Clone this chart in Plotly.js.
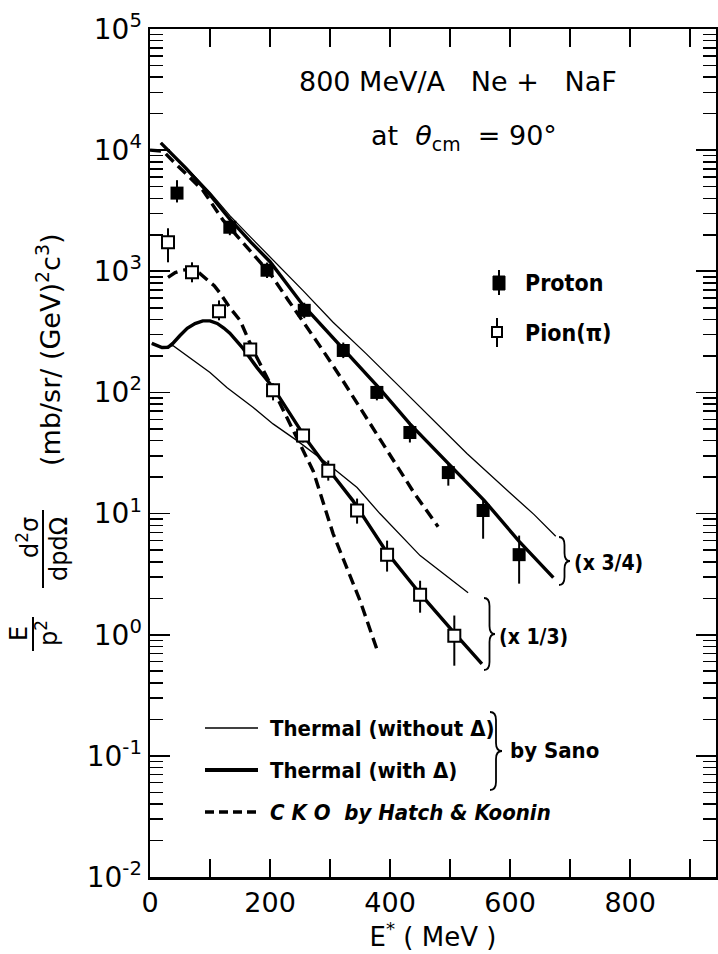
<!DOCTYPE html>
<html><head><meta charset="utf-8">
<script src="https://cdn.plot.ly/plotly-3.0.1.min.js"></script>
<style>body{margin:0;background:#fff}</style>
</head><body><div id="chart" style="width:718px;height:954px"></div>
<script>
// ---- Data ----
const protonE  = [45, 133, 195, 257, 322, 378, 433, 497, 555, 615];
const protonY  = [4420, 2310, 1020, 476, 222, 100, 46.7, 21.8, 10.6, 4.58];
const protonHi = [5650, 2790, 1180, 550, 258, 116, 55.5, 25.9, 12.8, 6.58];
const protonLo = [3700, 1985, 880, 410, 192, 86, 38.6, 17.0, 6.2, 2.64];

const pionE  = [30, 70, 115, 167, 205, 255, 297, 345, 395, 450, 507];
const pionY  = [1740, 982, 467, 226, 104, 44.2, 22.6, 10.6, 4.58, 2.14, 0.98];
const pionHi = [2265, 1186, 575, 262, 119, 50, 27.4, 13.3, 5.98, 2.79, 1.44];
const pionLo = [1186, 811, 394, 195, 86, 38.6, 18.7, 8.26, 3.32, 1.52, 0.555];

// Thermal without Delta (thin), protons (x3/4)
const pThinE = [18, 60, 100, 133, 168, 200, 255, 305, 360, 417, 475, 528, 600, 640, 676];
const pThinY = [11480, 7240, 4470, 2880, 1905, 1318, 692, 380, 209, 110, 57.5, 31.3, 14.8, 9.8, 6.5];
// Thermal with Delta (thick), protons
const pThickE = [18, 60, 100, 133, 168, 200, 255, 322, 383, 433, 498, 557, 615, 672];
const pThickY = [11480, 7080, 4270, 2690, 1740, 1200, 525, 229, 107, 55, 25.7, 12.8, 5.9, 2.96];
// CKO (dashed), protons
const pCkoE = [0, 22, 40, 88, 122, 162, 200, 230, 260, 290, 320, 350, 380, 410, 440, 480];
const pCkoY = [10000, 9800, 7950, 4670, 2630, 1580, 960, 580, 355, 215, 128, 75, 44, 25.5, 14.8, 7.8];

// Pions (x1/3)
const piThinE = [3, 20, 38, 100, 128, 172, 205, 245, 295, 345, 383, 450, 530];
const piThinY = [254, 235, 244, 146, 110, 75, 55, 40, 26, 16.4, 10, 4.5, 2.22];
const piThickE = [3, 12, 20, 30, 38, 50, 62, 75, 88, 100, 112, 123, 133, 155, 178, 205, 233, 262, 295, 338, 395, 450, 508, 553];
const piThickY = [254, 244, 235, 236, 254, 295, 338, 370, 390, 390, 371, 340, 308, 231, 161, 110, 67, 40, 24, 12.8, 4.76, 2.18, 1.02, 0.575];
const piCkoE = [30, 42, 55, 70, 82, 95, 107, 117, 133, 150, 172, 200, 222, 250, 272, 305, 350, 380];
const piCkoY = [891, 975, 1023, 1047, 970, 860, 760, 658, 500, 394, 222, 119, 71, 37.9, 22.4, 6.84, 1.91, 0.71];

// y tick labels
const yTickVals = [0.01, 0.1, 1, 10, 100, 1000, 10000, 100000];
const yTickText = ['10<sup>-2</sup>', '10<sup>-1</sup>', '10<sup>0</sup>', '10<sup>1</sup>',
                   '10<sup>2</sup>', '10<sup>3</sup>', '10<sup>4</sup>', '10<sup>5</sup>'];

// ---- Geometry helpers (pixel -> paper) ----
const L = 150, R = 716, T = 29, B = 877;
const px = x => (x - L) / (R - L);
const py = y => (B - y) / (B - T);

const GEO = 'DejaVu Sans, sans-serif';
const COND = 'Liberation Sans Narrow, DejaVu Sans Condensed, sans-serif';
const DASH = '11px,6px';

function line(x, y, w, dash) {
  return {x: x, y: y, type: 'scatter', mode: 'lines', showlegend: false, hoverinfo: 'skip',
          line: {color: 'black', width: w, dash: dash || 'solid'}};
}
const diff = (a, b) => a.map((v, i) => v - b[i]);

const traces = [
  line(pThinE, pThinY, 1.3),
  line(pThickE, pThickY, 3.4),
  line(pCkoE, pCkoY, 3.4, DASH),
  line(piThinE, piThinY, 1.3),
  line(piThickE, piThickY, 3.4),
  line(piCkoE, piCkoY, 3.4, DASH),
  {x: protonE, y: protonY, type: 'scatter', mode: 'markers', showlegend: false,
   marker: {symbol: 'square', size: 13, color: 'black'},
   error_y: {type: 'data', symmetric: false, array: diff(protonHi, protonY), arrayminus: diff(protonY, protonLo),
             thickness: 2, width: 0, color: 'black'}},
  {x: pionE, y: pionY, type: 'scatter', mode: 'markers', showlegend: false,
   marker: {symbol: 'square', size: 12, color: 'white', line: {color: 'black', width: 2}},
   error_y: {type: 'data', symmetric: false, array: diff(pionHi, pionY), arrayminus: diff(pionY, pionLo),
             thickness: 2, width: 0, color: 'black'}}
];

function ann(text, x, y, size, opts) {
  return Object.assign({text: text, x: px(x), y: py(y), xref: 'paper', yref: 'paper', showarrow: false,
    xanchor: 'center', yanchor: 'middle', font: {family: GEO, size: size, color: 'black'}}, opts || {});
}
function seg(x0, y0, x1, y1, w, dash) {
  return {type: 'line', xref: 'paper', yref: 'paper', x0: px(x0), y0: py(y0), x1: px(x1), y1: py(y1),
          line: {color: 'black', width: w, dash: dash || 'solid'}};
}
function brace(x0, yt, yb, w) {
  const ym = (yt + yb) / 2, xm = x0 + w / 2, r = Math.min(8, (yb - yt) / 6);
  const P = (x, y) => px(x) + ',' + py(y);
  const d = 'M' + P(x0, yt) + ' Q' + P(xm, yt) + ' ' + P(xm, yt + r) + ' L' + P(xm, ym - r) +
            ' Q' + P(xm, ym) + ' ' + P(x0 + w, ym) + ' Q' + P(xm, ym) + ' ' + P(xm, ym + r) +
            ' L' + P(xm, yb - r) + ' Q' + P(xm, yb) + ' ' + P(x0, yb);
  return {type: 'path', xref: 'paper', yref: 'paper', path: d, line: {color: 'black', width: 1.8}};
}
const cf = s => ({family: COND, size: s, color: 'black'});

const NB = '\u00a0';
const annotations = [
  ann('800 MeV/A' + NB + NB + ' Ne +' + NB + NB + ' NaF', 458, 81, 27),
  ann('at' + NB + ' <i>θ</i><sub>cm</sub>' + NB + ' = 90°', 464, 137, 27),
  ann('<b>Proton</b>', 523, 283, 23, {xanchor: 'left', font: cf(23)}),
  ann('<b>Pion(π)</b>', 523, 333, 23, {xanchor: 'left', font: cf(23)}),
  ann('<b>(x 3/4)</b>', 572, 563, 21, {xanchor: 'left', font: cf(21)}),
  ann('<b>(x 1/3)</b>', 497, 637, 21, {xanchor: 'left', font: cf(21)}),
  ann('<b>Thermal (without Δ)</b>', 268, 728, 22, {xanchor: 'left', font: cf(22)}),
  ann('<b>Thermal (with Δ)</b>', 268, 770, 22, {xanchor: 'left', font: cf(22)}),
  ann('<b><i>C K O' + NB + NB + 'by Hatch &amp; Koonin</i></b>', 268, 812, 22, {xanchor: 'left', font: cf(22)}),
  ann('<b>by Sano</b>', 508, 750, 22, {xanchor: 'left', font: cf(22)}),
  // y-axis title pieces (rotated)
  ann('(mb/sr/ (GeV)<sup>2</sup>c<sup>3</sup>)', 48, 350, 27, {textangle: -90}),
  ann('d<sup>2</sup>σ', 28, 538, 24, {textangle: -90}),
  ann('dpdΩ', 59, 549, 24, {textangle: -90}),
  ann('E', 19, 634, 24, {textangle: -90}),
  ann('p<sup>2</sup>', 47, 633, 24, {textangle: -90})
];

const shapes = [
  seg(43, 510, 43, 588, 2),
  seg(33, 617, 33, 651, 2),
  seg(205, 728, 258, 728, 1.3),
  seg(205, 770, 258, 770, 4),
  seg(205, 812, 258, 812, 3.4, '9px,5px'),
  brace(490, 712, 790, 12),
  brace(559, 537, 585, 11),
  brace(484, 598, 670, 11),
  // legend symbols
  seg(499, 270, 499, 295, 2),
  {type: 'rect', xref: 'paper', yref: 'paper', x0: px(493), x1: px(505), y0: py(276), y1: py(290),
   fillcolor: 'black', line: {color: 'black', width: 1}},
  seg(497, 318, 497, 347, 2),
  {type: 'rect', xref: 'paper', yref: 'paper', x0: px(492), x1: px(502), y0: py(327), y1: py(337),
   fillcolor: 'white', line: {color: 'black', width: 2}}
];

const layout = {
  width: 718, height: 954,
  margin: {l: L, r: 718 - R, t: T, b: 954 - B},
  paper_bgcolor: 'white', plot_bgcolor: 'white',
  showlegend: false,
  xaxis: {
    range: [0, 943], dtick: 200, tick0: 0,
    ticks: 'inside', ticklen: 18, tickwidth: 1.8, tickcolor: 'black',
    minor: {dtick: 100, tick0: 0, ticks: 'inside', ticklen: 18, tickwidth: 1.8, tickcolor: 'black'},
    showline: true, linewidth: 2.5, linecolor: 'black', mirror: 'ticks',
    showgrid: false, zeroline: false,
    tickfont: {family: GEO, size: 27, color: 'black'},
    title: {text: 'E<sup>*</sup> ( MeV )', font: {family: GEO, size: 26, color: 'black'}, standoff: 8}
  },
  yaxis: {
    type: 'log', range: [-2, 5],
    tickmode: 'array', tickvals: yTickVals, ticktext: yTickText,
    ticks: 'inside', ticklen: 20, tickwidth: 1.8, tickcolor: 'black',
    minor: {dtick: 'D1', ticks: 'inside', ticklen: 13, tickwidth: 1.5, tickcolor: 'black'},
    showline: true, linewidth: 2.5, linecolor: 'black', mirror: 'ticks',
    showgrid: false, zeroline: false,
    tickfont: {family: GEO, size: 28, color: 'black'}
  },
  annotations: annotations,
  shapes: shapes
};

Plotly.newPlot('chart', traces, layout, {displayModeBar: false, staticPlot: true});
</script>
</body></html>
